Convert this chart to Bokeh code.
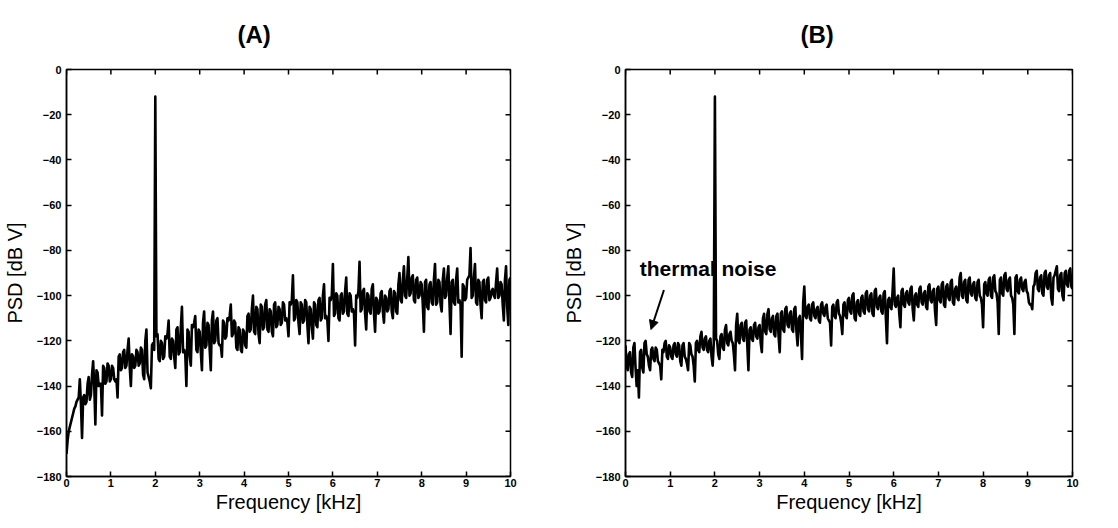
import numpy as np
from bokeh.plotting import figure
from bokeh.layouts import row
from bokeh.models import Range1d, FixedTicker, Label, Arrow, NormalHead
from bokeh.embed import file_html
from bokeh.resources import INLINE

# ---------------- data ----------------
freq_step_khz = 0.025  # spectral line spacing of both traces

# readings at 0, 0.05, 0.10 ... 10 kHz
psd_a_even = [
    -170, -160, -156, -152, -149, -146, -137, -163, -144, -147,
    -136, -144, -129, -157, -134, -139, -153, -132, -138, -131,
    -137, -132, -138, -145, -126, -132, -124, -131, -119, -140,
    -127, -131, -125, -130, -124, -137, -115, -136, -141, -121,
    -12, -117, -129, -121, -127, -119, -111, -128, -120, -132,
    -114, -125, -105, -124, -140, -116, -131, -114, -109, -125,
    -116, -133, -107, -122, -113, -133, -107, -120, -110, -122,
    -127, -112, -118, -111, -104, -117, -112, -124, -115, -125,
    -116, -123, -108, -115, -100, -117, -106, -121, -105, -114,
    -102, -116, -107, -118, -103, -113, -106, -112, -104, -110,
    -118, -104, -91, -110, -103, -117, -104, -111, -103, -121,
    -106, -119, -104, -114, -101, -110, -95, -109, -120, -102,
    -86, -108, -100, -111, -99, -107, -92, -109, -100, -106,
    -122, -101, -85, -106, -97, -115, -100, -108, -95, -116,
    -102, -107, -98, -112, -101, -106, -97, -110, -99, -108,
    -90, -103, -87, -101, -83, -99, -91, -103, -92, -100,
    -95, -116, -93, -106, -94, -104, -86, -103, -94, -107,
    -88, -100, -87, -117, -93, -104, -88, -102, -127, -96,
    -101, -92, -79, -100, -86, -104, -94, -110, -93, -103,
    -92, -101, -97, -101, -88, -100, -95, -111, -87, -113,
    -92,
]
# readings at 0.025, 0.075, ... 9.975 kHz
psd_a_odd = [
    -164, -158, -154, -150, -147, -145, -148, -145, -148, -139,
    -146, -135, -140, -133, -140, -139, -131, -139, -130, -138,
    -131, -137, -137, -127, -133, -125, -132, -124, -132, -126,
    -132, -124, -131, -123, -135, -120, -134, -138, -122, -124,
    -118, -128, -120, -128, -118, -117, -127, -119, -127, -115,
    -126, -114, -125, -126, -115, -127, -113, -112, -124, -115,
    -125, -112, -123, -112, -124, -111, -121, -111, -121, -122,
    -111, -119, -110, -109, -118, -111, -123, -114, -124, -115,
    -122, -109, -116, -106, -116, -105, -117, -104, -115, -104,
    -115, -106, -116, -104, -114, -105, -113, -103, -111, -112,
    -103, -102, -111, -102, -112, -103, -112, -102, -113, -105,
    -114, -103, -113, -102, -111, -100, -110, -111, -101, -100,
    -109, -99, -110, -100, -108, -98, -108, -99, -107, -108,
    -100, -98, -107, -98, -108, -99, -107, -97, -108, -101,
    -108, -99, -107, -100, -107, -98, -107, -98, -107, -95,
    -102, -93, -100, -92, -100, -92, -102, -93, -101, -94,
    -104, -94, -105, -95, -103, -93, -104, -93, -104, -93,
    -101, -92, -103, -94, -103, -93, -103, -104, -95, -102,
    -93, -91, -101, -92, -103, -93, -104, -94, -102, -93,
    -102, -98, -100, -94, -101, -94, -104, -93, -105, -93,
]

psd_b_even = [
    -122, -133, -125, -136, -121, -140, -145, -124, -134, -120,
    -127, -133, -123, -129, -124, -130, -137, -125, -120, -128,
    -123, -128, -121, -127, -122, -131, -121, -128, -133, -122,
    -127, -138, -120, -125, -116, -124, -118, -125, -119, -131,
    -12, -120, -128, -117, -124, -113, -122, -116, -121, -133,
    -108, -121, -112, -120, -111, -133, -114, -120, -112, -119,
    -113, -125, -108, -117, -106, -116, -109, -118, -108, -125,
    -107, -116, -105, -114, -107, -116, -105, -122, -109, -128,
    -96, -110, -104, -111, -103, -110, -105, -112, -103, -109,
    -104, -111, -122, -104, -110, -102, -109, -117, -103, -110,
    -101, -108, -99, -111, -102, -109, -100, -108, -98, -107,
    -99, -109, -97, -106, -100, -108, -98, -121, -101, -106,
    -88, -105, -100, -114, -97, -105, -98, -104, -96, -111,
    -99, -105, -96, -104, -98, -106, -95, -103, -97, -113,
    -96, -103, -94, -105, -95, -102, -93, -104, -96, -102,
    -90, -101, -93, -103, -92, -100, -94, -102, -93, -101,
    -114, -94, -100, -92, -101, -91, -99, -117, -92, -100,
    -90, -98, -92, -101, -117, -91, -99, -92, -98, -93,
    -99, -104, -106, -95, -89, -98, -91, -100, -89, -97,
    -90, -104, -91, -87, -98, -90, -102, -89, -96, -88,
    -97,
]
psd_b_odd = [
    -131, -126, -134, -123, -132, -133, -125, -132, -121, -126,
    -131, -124, -128, -123, -129, -131, -124, -121, -127, -122,
    -127, -122, -126, -121, -129, -122, -127, -130, -121, -126,
    -131, -121, -124, -118, -123, -119, -124, -120, -127, -121,
    -119, -126, -118, -123, -115, -121, -117, -120, -126, -113,
    -120, -113, -119, -112, -122, -115, -119, -113, -118, -114,
    -121, -110, -116, -108, -115, -110, -117, -109, -118, -108,
    -115, -106, -113, -108, -115, -106, -116, -110, -117, -103,
    -109, -105, -110, -104, -109, -106, -111, -104, -108, -105,
    -110, -112, -105, -109, -103, -108, -112, -104, -109, -102,
    -107, -100, -110, -103, -108, -101, -107, -99, -106, -100,
    -108, -98, -105, -101, -107, -99, -110, -102, -105, -98,
    -104, -101, -108, -98, -104, -99, -103, -97, -106, -100,
    -104, -97, -103, -99, -105, -96, -102, -98, -107, -97,
    -102, -95, -104, -96, -101, -94, -103, -97, -101, -92,
    -100, -94, -102, -93, -99, -95, -101, -94, -100, -104,
    -95, -99, -93, -100, -92, -98, -103, -93, -99, -91,
    -97, -93, -100, -104, -92, -98, -93, -97, -94, -98,
    -103, -104, -96, -90, -97, -92, -99, -90, -96, -91,
    -101, -92, -89, -97, -91, -100, -90, -95, -89, -96,
]

x_ticks = [0, 1, 2, 3, 4, 5, 6, 7, 8, 9, 10]
y_ticks = [0, -20, -40, -60, -80, -100, -120, -140, -160, -180]
titles = ["(A)", "(B)"]
x_label = "Frequency [kHz]"
y_label = "PSD [dB V]"
annotation_text = "thermal noise"

FONT = "Liberation Sans"


def merge(even, odd):
    out = []
    for i, v in enumerate(even):
        out.append(v)
        if i < len(odd):
            out.append(odd[i])
    return out


def make_panel(title, psd, b_left, b_right, b_bottom, title_offset):
    freqs = np.arange(len(psd)) * freq_step_khz
    p = figure(width=559, height=528,
               x_range=Range1d(0, 10), y_range=Range1d(-180, 0),
               output_backend="svg", toolbar_location=None,
               min_border_left=b_left, min_border_right=b_right,
               min_border_top=69, min_border_bottom=b_bottom,
               x_axis_label=x_label, y_axis_label=y_label)
    p.background_fill_color = "white"
    p.border_fill_color = "white"
    p.outline_line_color = "black"
    p.outline_line_width = 1.5
    p.grid.visible = False

    p.title.text = title
    p.title.text_font = FONT
    p.title.text_font_size = "24px"
    p.title.text_font_style = "bold"
    p.title.text_color = "black"
    p.title.align = "left"
    p.title.vertical_align = "top"
    p.title.offset = title_offset
    p.title.standoff = 40

    for ax, ticks in [(p.xaxis[0], x_ticks), (p.yaxis[0], y_ticks)]:
        ax.ticker = FixedTicker(ticks=ticks)
        ax.axis_line_color = "black"
        ax.axis_line_width = 1.5
        ax.major_tick_in = 5
        ax.major_tick_out = 0
        ax.major_tick_line_color = "black"
        ax.major_tick_line_width = 1.5
        ax.minor_tick_line_color = None
        ax.major_label_text_font = FONT
        ax.major_label_text_font_style = "bold"
        ax.major_label_text_font_size = "11px"
        ax.major_label_text_color = "black"
        ax.axis_label_text_font = FONT
        ax.axis_label_text_font_style = "normal"
        ax.axis_label_text_font_size = "20px"
        ax.axis_label_text_color = "black"

    p.xaxis[0].major_label_standoff = 2
    p.xaxis[0].axis_label_standoff = 1
    p.yaxis[0].major_label_standoff = 5
    p.yaxis[0].axis_label_standoff = 8

    # inward ticks on the top and right edges (half of each dash is clipped by the frame)
    p.scatter(x_ticks, [0] * len(x_ticks), marker="dash", size=10, angle=np.pi / 2,
              line_color="black", line_width=1.5)
    p.scatter([10] * len(y_ticks), y_ticks, marker="dash", size=10,
              line_color="black", line_width=1.5)

    p.line(freqs, psd, line_color="black", line_width=2.6, line_join="round")
    return p


pA = make_panel(titles[0], merge(psd_a_even, psd_a_odd), 62, 49, 52, 171)
pB = make_panel(titles[1], merge(psd_b_even, psd_b_odd), 60, 46, 51, 175)

lbl = Label(x=0.32, y=-88, text=annotation_text, text_font=FONT,
            text_font_style="bold", text_font_size="21px",
            text_baseline="alphabetic", text_color="black", level="underlay")
pB.add_layout(lbl)
arr = Arrow(x_start=0.86, y_start=-97.5, x_end=0.57, y_end=-115,
            line_color="black", line_width=2,
            end=NormalHead(size=9, fill_color="black", line_color="black"))
pB.add_layout(arr)

layout = row(pA, pB)
open("out.html", "w").write(file_html(layout, INLINE))
